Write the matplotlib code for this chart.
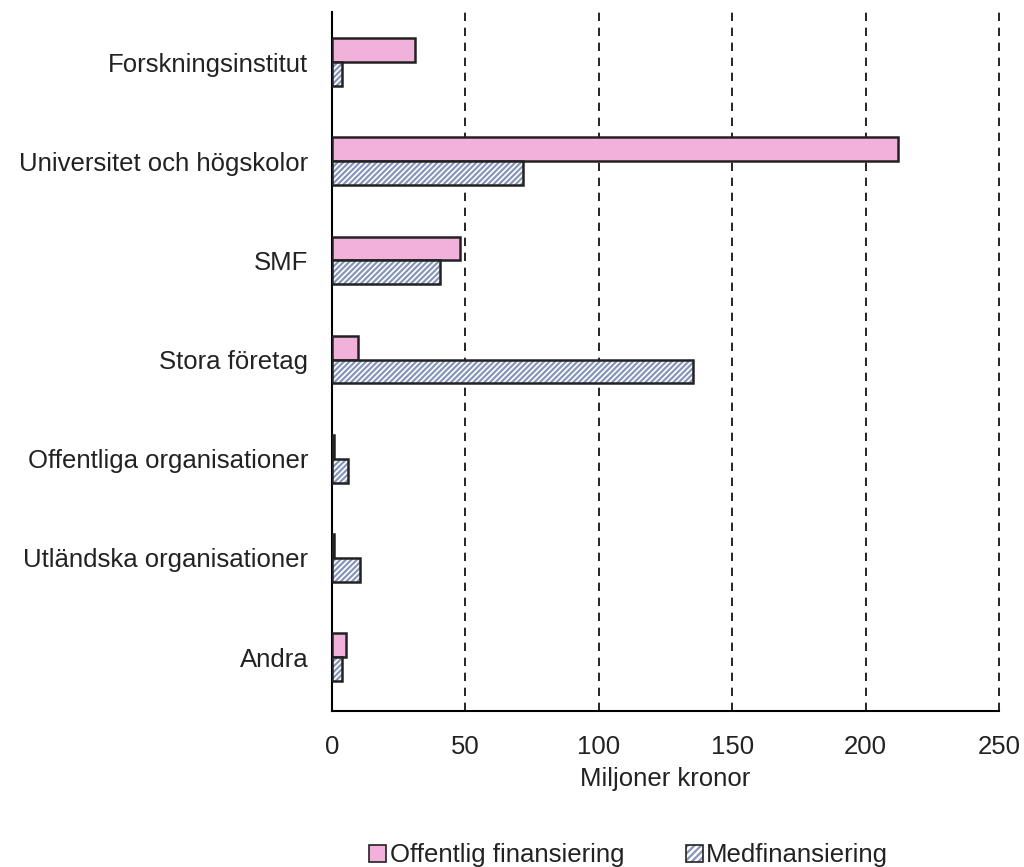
import matplotlib.pyplot as plt
import numpy as np
from matplotlib.patches import Patch
from matplotlib.legend_handler import HandlerTuple

plt.rcParams['font.family'] = ['Liberation Sans', 'DejaVu Sans']
plt.rcParams['text.color'] = "#222222"
plt.rcParams['xtick.color'] = "#222222"
plt.rcParams['ytick.color'] = "#222222"
plt.rcParams['axes.labelcolor'] = "#222222"

categories = ["Forskningsinstitut", "Universitet och högskolor", "SMF", "Stora företag",
              "Offentliga organisationer", "Utländska organisationer", "Andra"]
offentlig = [31.3, 212, 48.2, 10, 1.0, 0.7, 5.4]
medfin = [3.9, 71.5, 40.6, 135.3, 5.9, 10.5, 3.8]

pink = "#F2B1DA"
hatch_col = "#8796B8"
edge = "#222222"

fig = plt.figure(figsize=(10.24, 8.67), dpi=100)
ax = fig.add_axes([0.324, 0.18, 0.6516, 0.806])

y = np.arange(len(categories))
h = 0.24
plt.rcParams['hatch.linewidth'] = 1.6

ax.barh(y - h / 2, offentlig, h, color=pink, edgecolor=edge, linewidth=1.8, zorder=3)
# hatched bars: hatch layer then black outline
ax.barh(y + h / 2, medfin, h, color="white", edgecolor=hatch_col, hatch="//////",
        linewidth=0, zorder=3)
ax.barh(y + h / 2, medfin, h, fill=False, edgecolor=edge, linewidth=1.8, zorder=4)

ax.set_ylim(6.544, -0.504)
ax.set_xlim(0, 250)
ax.set_xticks([0, 50, 100, 150, 200, 250])
ax.set_yticks(y)
ax.set_yticklabels(categories, fontsize=18.5)
ax.tick_params(axis='x', labelsize=18.5, length=0, pad=17)
ax.tick_params(axis='y', length=0, pad=17)
ax.xaxis.grid(True, linestyle=(0, (5, 4)), color="black", linewidth=1.2)
for gl in ax.get_xgridlines():
    gl.set_clip_on(False)
ax.set_axisbelow(True)
for s in ["top", "right"]:
    ax.spines[s].set_visible(False)
for s in ["left", "bottom"]:
    ax.spines[s].set_linewidth(1.5)
ax.set_xlabel("Miljoner kronor", fontsize=18.5, labelpad=6)

h1 = Patch(facecolor=pink, edgecolor=edge, linewidth=1.2)
h2 = (Patch(facecolor="white", edgecolor=hatch_col, hatch="/////", linewidth=0),
      Patch(fill=False, edgecolor=edge, linewidth=1.2))
fig.legend(handles=[h1, h2], labels=["Offentlig finansiering", "Medfinansiering"],
           handler_map={tuple: HandlerTuple(ndivide=1, pad=0)},
           loc="lower center", bbox_to_anchor=(0.614, -0.027), ncol=2,
           frameon=False, fontsize=18.5, handlelength=0.65, handleheight=0.65,
           handletextpad=0.15, columnspacing=2.4)

fig.savefig("out.png", dpi=100)
